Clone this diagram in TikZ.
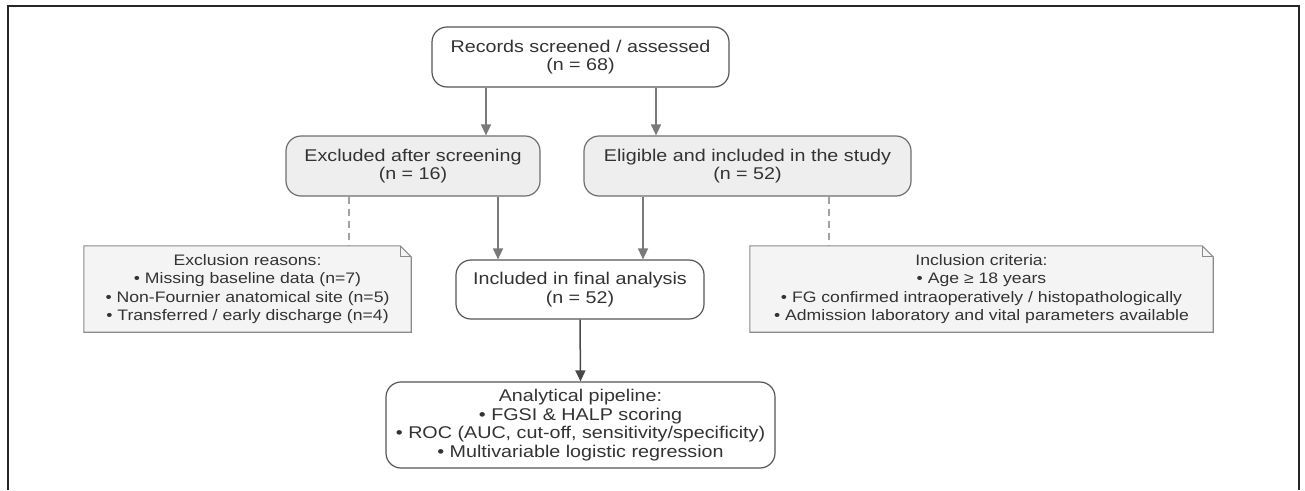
\documentclass[tikz,border=0pt]{standalone}
\usepackage{fontspec}
\setmainfont[FakeStretch=1.16]{Liberation Sans}
\usetikzlibrary{arrows.meta}
\usetikzlibrary{backgrounds}

\definecolor{boxline}{HTML}{555555}
\definecolor{stagefill}{HTML}{EEEEEE}
\definecolor{memofill}{HTML}{F4F4F4}
\definecolor{memoline}{HTML}{8A8A8A}
\definecolor{arrowgray}{HTML}{7A7A7A}
\definecolor{arrowdark}{HTML}{474747}
\definecolor{txt}{HTML}{333333}

\tikzset{
    flowbox/.style={draw=boxline, line width=1.2pt, rounded corners=15pt, fill=white,
        align=center, text=txt, inner sep=0pt,
        font=\fontsize{17}{18.4}\selectfont},
    stagebox/.style={flowbox, fill=stagefill, draw=boxline!85},
    memo/.style={align=center, text=txt, inner sep=0pt,
        font=\fontsize{15.2}{18.3}\selectfont},
    flow/.style={draw=arrowgray, line width=1.5pt, -{Triangle[length=11pt,width=10pt]}},
    mainflow/.style={flow, draw=arrowdark},
    link/.style={draw=memoline!80, line width=1.3pt, dash pattern=on 7pt off 5pt}
}

% note outline with folded corner, drawn behind the node
\newcommand{\memofold}[1]{%
    \begin{scope}[on background layer]
    \draw[memoline, line width=1.1pt, fill=memofill] (#1.north west)
        -- ([xshift=-11pt]#1.north east) -- ([yshift=-11pt]#1.north east)
        -- (#1.south east) -- (#1.south west) -- cycle;
    \draw[memoline, line width=1.1pt] ([xshift=-11pt]#1.north east)
        -- ([xshift=-11pt,yshift=-11pt]#1.north east) -- ([yshift=-11pt]#1.north east);
    \end{scope}}

\begin{document}
\begin{tikzpicture}[x=1pt,y=-1pt]
    \useasboundingbox (0,0) rectangle (1305,490);
    \draw[line width=1.3pt, black!85] (8,490) -- (8,6) -- (1299,6) -- (1299,490);

    % main flow
    \node[flowbox, minimum width=297pt, minimum height=60pt] (rec) at (580.5,57)
        {Records screened / assessed\\(n = 68)};
    \node[stagebox, minimum width=254pt, minimum height=60pt] (exc) at (413,166)
        {Excluded after screening\\(n = 16)};
    \node[stagebox, minimum width=327pt, minimum height=60pt] (elig) at (747.5,166)
        {Eligible and included in the study\\(n = 52)};
    \node[flowbox, minimum width=248pt, minimum height=59pt] (incl) at (580,289.5)
        {Included in final analysis\\(n = 52)};
    \node[flowbox, minimum width=389pt, minimum height=86pt] (pipe) at (580.5,425)
        {Analytical pipeline:\\• FGSI \& HALP scoring\\• ROC (AUC, cut-off, sensitivity/specificity)\\• Multivariable logistic regression};

    % notes
    \node[memo, minimum width=327pt, minimum height=86pt] (exnote) at (247.5,289)
        {Exclusion reasons:\\• Missing baseline data (n=7)\\• Non-Fournier anatomical site (n=5)\\• Transferred / early discharge (n=4)};
    \memofold{exnote}
    \node[memo, minimum width=463pt, minimum height=86pt] (innote) at (981.5,289)
        {Inclusion criteria:\\• Age ≥ 18 years\\• FG confirmed intraoperatively / histopathologically\\• Admission laboratory and vital parameters available};
    \memofold{innote}

    % arrows
    \draw[flow] ([xshift=-94.5pt]rec.south) -- ([xshift=73pt]exc.north);
    \draw[flow] ([xshift=75.5pt]rec.south) -- ([xshift=-91.5pt]elig.north);
    \draw[flow] ([xshift=85pt]exc.south) -- ([xshift=-82pt]incl.north);
    \draw[flow] ([xshift=-104.5pt]elig.south) -- ([xshift=63pt]incl.north);
    \draw[mainflow] (incl.south) -- (pipe.north);

    \draw[link] ([xshift=-64pt]exc.south) -- ([xshift=101.5pt]exnote.north);
    \draw[link] ([xshift=81.5pt]elig.south) -- ([xshift=-152.5pt]innote.north);
\end{tikzpicture}
\end{document}
